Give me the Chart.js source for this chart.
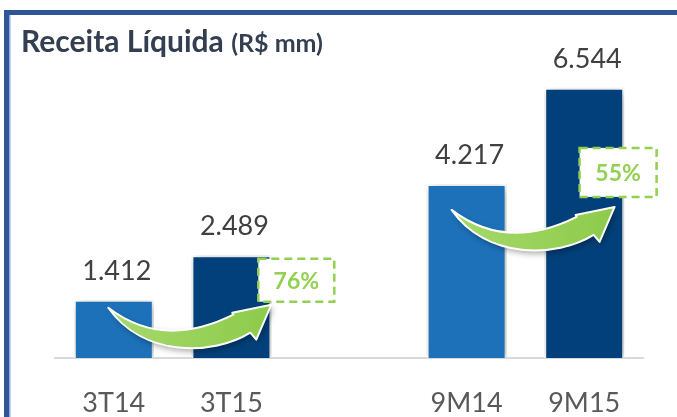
<!DOCTYPE html>
<html>
<head>
<meta charset="utf-8">
<script src="https://cdn.jsdelivr.net/npm/chart.js@4"></script>
<style>
  html, body { margin: 0; padding: 0; background: #fff; }
  #wrap { position: relative; width: 677px; height: 417px; overflow: hidden; }
  #frame {
    position: absolute; left: 3.5px; top: 9.5px; width: 760px; height: 500px;
    border-left: 5px solid #2F5597; border-top: 5.5px solid #2F5597;
    box-shadow: inset 1.5px 0 0 #8FAADC;
  }
  #title {
    position: absolute; left: 21px; top: 25px; margin: 0;
    font-family: Lato, sans-serif; font-weight: bold; font-size: 30px; line-height: 30px;
    color: #333F50; white-space: nowrap;
  }
  #title small { font-size: 25px; }
  canvas { position: absolute; left: 0; top: 0; }
</style>
</head>
<body>
<div id="wrap">
  <div id="frame"></div>
  <canvas id="revenueChart" width="677" height="417"></canvas>
  <h1 id="title">Receita Líquida <small>(R$ mm)</small></h1>
</div>
<script>
// empty category keeps the gap between the quarter and the nine-month pair
const periods = ['3T14', '3T15', '', '9M14', '9M15'];
const revenue = [1412, 2489, null, 4217, 6544];
const barColors = ['#1C71B9', '#01407A', '#1C71B9', '#1C71B9', '#01407A'];

// growth pairs: index of base bar and compared bar
const growthPairs = [
  { from: 0, to: 1, dx: -5.5, dy: 8, box: [150, -49, 76, 43] },
  { from: 3, to: 4, dx: -15, dy: 26, box: [128, -62, 77, 49] },
];

function fmt(v) {
  return String(v).replace(/\B(?=(\d{3})+(?!\d))/g, '.');
}

const barShadow = {
  id: 'barShadow',
  beforeDatasetsDraw(chart) {
    const ctx = chart.ctx;
    ctx.save();
    ctx.shadowColor = 'rgba(0,0,0,0.35)';
    ctx.shadowBlur = 9;
    ctx.shadowOffsetX = 2;
    ctx.shadowOffsetY = 2;
  },
  afterDatasetsDraw(chart) {
    chart.ctx.restore();
  },
};

function drawArrow(ctx, x, y) {
  ctx.save();
  ctx.translate(x, y);
  ctx.beginPath();
  ctx.moveTo(0, 0);
  ctx.quadraticCurveTo(55, 42, 125, 7);
  ctx.lineTo(124, 5);
  ctx.lineTo(163, -3);
  ctx.lineTo(148, 32);
  ctx.lineTo(142, 25);
  ctx.bezierCurveTo(105, 48, 35, 50, 0, 0);
  ctx.closePath();
  const g = ctx.createLinearGradient(0, 0, 163, 0);
  g.addColorStop(0, '#A6D96C');
  g.addColorStop(1, '#8DCB4A');
  ctx.shadowColor = 'rgba(0,0,0,0.35)';
  ctx.shadowBlur = 6;
  ctx.shadowOffsetX = 2;
  ctx.shadowOffsetY = 3;
  ctx.fillStyle = g;
  ctx.fill();
  ctx.shadowColor = 'transparent';
  ctx.strokeStyle = '#fff';
  ctx.lineWidth = 2;
  ctx.lineJoin = 'round';
  ctx.stroke();
  ctx.restore();
}

const growthMarks = {
  id: 'growthMarks',
  afterDatasetsDraw(chart) {
    const ctx = chart.ctx;
    const bars = chart.getDatasetMeta(0).data;
    growthPairs.forEach((p) => {
      const a = bars[p.from];
      const sx = a.x + p.dx;
      const sy = a.y + p.dy;
      drawArrow(ctx, sx, sy);

      const [bx, by, bw, bh] = p.box;
      const left = sx + bx, top = sy + by;
      ctx.save();
      ctx.fillStyle = '#fff';
      ctx.fillRect(left, top, bw, bh);
      ctx.setLineDash([8, 5]);
      ctx.strokeStyle = '#92D050';
      ctx.lineWidth = 2.5;
      ctx.strokeRect(left, top, bw, bh);
      ctx.setLineDash([]);
      const pct = Math.round((revenue[p.to] / revenue[p.from] - 1) * 100);
      ctx.fillStyle = '#92D050';
      ctx.font = 'bold 23px Lato';
      ctx.textAlign = 'center';
      ctx.textBaseline = 'alphabetic';
      ctx.fillText(pct + '%', left + bw / 2, top + bh / 2 + 9);
      ctx.restore();
    });
  },
};

const valueLabels = {
  id: 'valueLabels',
  afterDraw(chart) {
    const ctx = chart.ctx;
    const bars = chart.getDatasetMeta(0).data;
    ctx.save();
    ctx.fillStyle = '#404040';
    ctx.font = '27px Lato';
    ctx.textAlign = 'center';
    ctx.textBaseline = 'alphabetic';
    bars.forEach((bar, i) => {
      if (revenue[i] == null) return;
      ctx.fillText(fmt(revenue[i]), bar.x + 3, bar.y - 20);
    });
    ctx.restore();
  },
};

const ctx = document.getElementById('revenueChart').getContext('2d');
new Chart(ctx, {
  type: 'bar',
  data: {
    labels: periods,
    datasets: [
      {
        data: revenue,
        backgroundColor: barColors,
        borderColor: '#ffffff',
        borderWidth: 2,
        barPercentage: 0.68,
        categoryPercentage: 1,
      },
    ],
  },
  options: {
    responsive: false,
    animation: false,
    devicePixelRatio: 1,
    layout: {
      padding: { left: 55, right: 34, top: 69, bottom: 0 },
    },
    plugins: {
      legend: { display: false },
      tooltip: { enabled: false },
    },
    scales: {
      x: {
        grid: { display: false, drawTicks: false },
        border: { display: true, color: '#D9D9D9', width: 2 },
        ticks: {
          color: '#595959',
          font: { family: 'Lato', size: 27 },
          padding: 29,
          autoSkip: false,
          maxRotation: 0,
        },
        afterFit(scale) {
          scale.height = 59;
        },
      },
      y: {
        display: false,
        min: 0,
        max: 7000,
      },
    },
  },
  plugins: [barShadow, growthMarks, valueLabels],
});
</script>
</body>
</html>
